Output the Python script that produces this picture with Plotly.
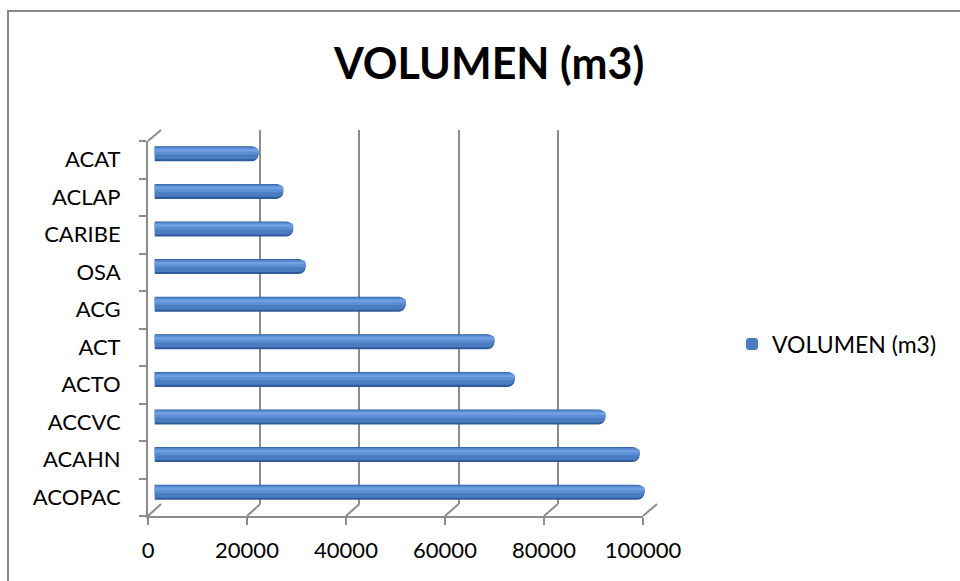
import plotly.graph_objects as go

# Data (bottom to top)
categories = ["ACOPAC", "ACAHN", "ACCVC", "ACTO", "ACT", "ACG", "OSA", "CARIBE", "ACLAP", "ACAT"]
volumen = [98900, 97900, 91000, 72700, 68600, 50700, 30500, 28000, 26000, 21000]
x_ticks = [0, 20000, 40000, 60000, 80000, 100000]
series_name = "VOLUMEN (m3)"
title_text = "VOLUMEN (m3)"

W, H = 960, 581
FONT = "Lato"
GRID = "#8c8c8c"


def px_x(x):
    return x / W


def px_y(y):
    return 1 - y / H


# pixel geometry of the pseudo-3D box: back wall, mid plane (bars), front plane
BACK = dict(x0=161, x1=657, y0=130, y1=504)
MID = dict(x0=154.5, x1=650, y0=135, y1=511)
FRONT = dict(x0=148, x1=643, y0=141, y1=516)

fig = go.Figure()

idx = list(range(len(categories)))

# invisible anchors so the back-wall and front-axis subplots are rendered
for xa, ya in (("x", "y"), ("x3", "y3")):
    fig.add_trace(go.Scatter(x=volumen, y=idx, mode="markers", marker=dict(opacity=0),
                             showlegend=False, hoverinfo="skip", xaxis=xa, yaxis=ya))

# cylinder-like bars: stacked layers of the same values, narrowing toward the highlight
layers = [
    dict(width=0.40, shift=0.00, color="#2f5c99", radius=7, legend=False),
    dict(width=0.33, shift=0.02, color="#4a7cc2", radius=6, legend=True),
    dict(width=0.18, shift=0.07, color="#5b8ed5", radius=4, legend=False),
    dict(width=0.07, shift=0.09, color="#6f9fe0", radius=2, legend=False),
]
for ly in layers:
    fig.add_trace(go.Bar(
        x=volumen, y=idx, orientation="h",
        width=ly["width"], offset=-ly["width"] / 2 + ly["shift"],
        marker=dict(color=ly["color"], line=dict(width=0), cornerradius=ly["radius"]),
        name=series_name, showlegend=ly["legend"],
        xaxis="x2", yaxis="y2", hoverinfo="skip",
    ))

axis_off = dict(showgrid=False, zeroline=False, showticklabels=False, ticks="", showline=False)

fig.update_layout(
    width=W, height=H,
    margin=dict(l=0, r=0, t=0, b=0, autoexpand=False),
    paper_bgcolor="white", plot_bgcolor="rgba(0,0,0,0)",
    barmode="overlay",
    font=dict(family=FONT, size=22, color="#000000"),
    # back wall gridlines
    xaxis=dict(domain=[px_x(BACK["x0"]), px_x(BACK["x1"])], range=[0, 100000],
               tickmode="array", tickvals=x_ticks, showgrid=True, gridcolor=GRID, gridwidth=2,
               zeroline=False, showticklabels=False, ticks="", showline=False, anchor="y"),
    yaxis=dict(domain=[px_y(BACK["y1"]), px_y(BACK["y0"])], range=[-0.5, len(categories) - 0.5],
               anchor="x", **axis_off),
    # bars at mid depth
    xaxis2=dict(domain=[px_x(MID["x0"]), px_x(MID["x1"])], range=[0, 100000], anchor="y2", **axis_off),
    yaxis2=dict(domain=[px_y(MID["y1"]), px_y(MID["y0"])], range=[-0.5, len(categories) - 0.5],
                anchor="x2", **axis_off),
    # front axes with labels
    xaxis3=dict(domain=[px_x(FRONT["x0"]), px_x(FRONT["x1"])], range=[0, 100000], anchor="y3",
                tickmode="array", tickvals=x_ticks, ticktext=[str(v) for v in x_ticks],
                ticks="outside", ticklen=7, tickwidth=2, tickcolor=GRID,
                showline=True, linecolor=GRID, linewidth=2, showgrid=False, zeroline=False,
                ticklabelstandoff=7, tickfont=dict(family=FONT, size=22), automargin=False),
    yaxis3=dict(domain=[px_y(FRONT["y1"]), px_y(FRONT["y0"])], range=[-0.5, len(categories) - 0.5],
                anchor="x3", tickmode="array", tickvals=idx, ticktext=categories,
                ticks="outside", ticklen=7, tickcolor="rgba(0,0,0,0)",
                minor=dict(tick0=-0.5, dtick=1, ticks="outside", ticklen=7, tickwidth=2, tickcolor=GRID),
                showline=True, linecolor=GRID, linewidth=2, showgrid=False, zeroline=False,
                ticklabelstandoff=14,
                tickfont=dict(family=FONT, size=22), automargin=False),
    legend=dict(x=px_x(732), y=px_y(344), xanchor="left", yanchor="middle",
                font=dict(family=FONT, size=23), bgcolor="rgba(0,0,0,0)"),
    annotations=[dict(text=f"<b>{title_text}</b>", x=px_x(488), y=px_y(62), xref="paper", yref="paper",
                      showarrow=False, xanchor="center", yanchor="middle",
                      font=dict(family=FONT, size=43, color="#000000"))],
)

# perspective edges joining the front plane to the back wall
shapes = []
fx = lambda v: px_x(FRONT["x0"] + (FRONT["x1"] - FRONT["x0"]) * v / 100000)
bx = lambda v: px_x(BACK["x0"] + (BACK["x1"] - BACK["x0"]) * v / 100000)
for v in x_ticks:
    shapes.append(dict(type="line", xref="paper", yref="paper",
                       x0=fx(v), y0=px_y(FRONT["y1"]), x1=bx(v), y1=px_y(BACK["y1"]),
                       line=dict(color=GRID, width=2)))
shapes.append(dict(type="line", xref="paper", yref="paper",
                   x0=fx(0), y0=px_y(FRONT["y0"]), x1=bx(0), y1=px_y(BACK["y0"]),
                   line=dict(color=GRID, width=2)))
# chart area border
shapes.append(dict(type="rect", xref="paper", yref="paper",
                   x0=px_x(8), y0=px_y(11), x1=px_x(W + 20), y1=px_y(H + 20),
                   line=dict(color="#888888", width=2), fillcolor="rgba(0,0,0,0)"))
fig.update_layout(shapes=shapes)

fig.write_html("out.html")
